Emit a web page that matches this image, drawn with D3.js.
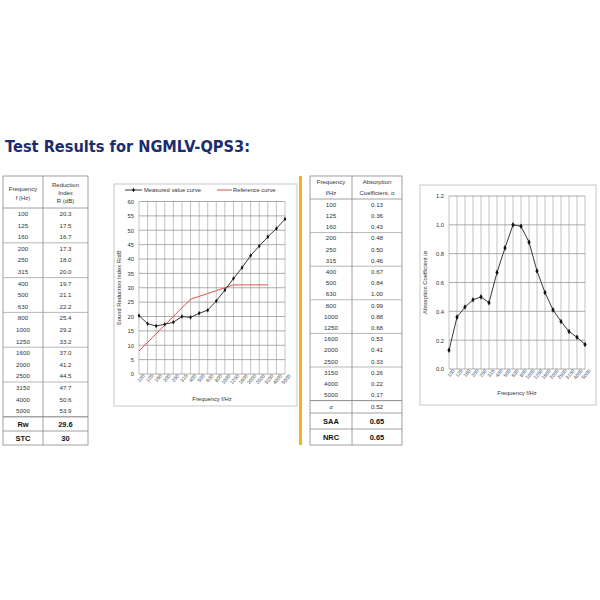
<!DOCTYPE html>
<html><head><meta charset="utf-8">
<script src="https://cdn.jsdelivr.net/npm/d3@7"></script>
<style>
body{margin:0;background:#fff;}
svg{display:block;font-family:"Liberation Sans",Arial,sans-serif;}
</style></head>
<body><svg id="c" width="600" height="600"></svg>
<script>
const titleText = "Test Results for NGMLV-QPS3:";
const freqs = [100,125,160,200,250,315,400,500,630,800,1000,1250,1600,2000,2500,3150,4000,5000];
const reductionIndex = [20.3,17.5,16.7,17.3,18.0,20.0,19.7,21.1,22.2,25.4,29.2,33.2,37.0,41.2,44.5,47.7,50.6,53.9];
const referenceCurve = [8,11,14,17,20,23,26,27,28,29,30,31,31,31,31,31];
const absorption = [0.13,0.36,0.43,0.48,0.50,0.46,0.67,0.84,1.00,0.99,0.88,0.68,0.53,0.41,0.33,0.26,0.22,0.17];
const soundSummary = [["Rw","29.6"],["STC","30"]];
const absorptionSummary = [["SAA","0.65"],["NRC","0.65"]];
const alphaRow = ["α","0.52"];
const yTicks1 = d3.range(0,61,5);
const yTicks2 = [0,0.2,0.4,0.6,0.8,1.0,1.2];

const svg = d3.select("#c");
const txtCol = "#333";

// Title
const t = svg.append("text").attr("x",5).attr("y",152)
  .attr("font-family","Verdana, 'DejaVu Sans', sans-serif").attr("font-weight","bold")
  .attr("font-size",16).attr("fill","#1c2c6c").text(titleText);
t.attr("textLength",245).attr("lengthAdjust","spacingAndGlyphs");

// Yellow separator
svg.append("rect").attr("x",299).attr("y",176).attr("width",3).attr("height",269).attr("fill","#f4b223");

// ---------- Left table ----------
function drawTable(cfg){
  const g = svg.append("g");
  const {x0,x1,xd,y0,y1,hb,rh,sumRows,headers} = cfg;
  const c1 = (x0+xd)/2, c2 = (xd+x1)/2;
  g.append("rect").attr("x",x0).attr("y",y0).attr("width",x1-x0).attr("height",y1-y0)
    .attr("fill","none").attr("stroke","#888").attr("stroke-width",0.8);
  g.append("line").attr("x1",xd).attr("x2",xd).attr("y1",y0).attr("y2",y1).attr("stroke","#888").attr("stroke-width",0.8);
  g.append("line").attr("x1",x0).attr("x2",x1).attr("y1",hb).attr("y2",hb).attr("stroke","#888").attr("stroke-width",0.8);
  headers.forEach(h=>{
    g.append("text").attr("x",h.col===0?c1:c2).attr("y",h.y).attr("text-anchor","middle")
      .attr("font-size",6).attr("fill",txtCol).text(h.t);
  });
  for(let k=3;k<=18;k+=3){
    const yy = hb + k*rh;
    g.append("line").attr("x1",x0).attr("x2",x1).attr("y1",yy).attr("y2",yy).attr("stroke","#999").attr("stroke-width",0.7);
  }
  freqs.forEach((f,i)=>{
    const yy = hb + (i+0.5)*rh + 2.2;
    g.append("text").attr("x",c1).attr("y",yy).attr("text-anchor","middle").attr("font-size",6.2).attr("fill",txtCol).text(f);
    g.append("text").attr("x",c2).attr("y",yy).attr("text-anchor","middle").attr("font-size",6.2).attr("fill",txtCol).text(cfg.vals[i]);
  });
  sumRows.forEach(r=>{
    g.append("line").attr("x1",x0).attr("x2",x1).attr("y1",r.top).attr("y2",r.top).attr("stroke","#888").attr("stroke-width",0.8);
    const yy = (r.top+r.bot)/2 + (r.bold?2.8:2.2);
    g.append("text").attr("x",c1).attr("y",yy).attr("text-anchor","middle").attr("font-size",r.bold?7.5:6.2)
      .attr("font-weight",r.bold?"bold":"normal").attr("fill",r.bold?"#111":txtCol).text(r.a);
    g.append("text").attr("x",c2).attr("y",yy).attr("text-anchor","middle").attr("font-size",r.bold?7.5:6.2)
      .attr("font-weight",r.bold?"bold":"normal").attr("fill",r.bold?"#111":txtCol).text(r.b);
  });
}

drawTable({x0:3,x1:88,xd:43,y0:176,y1:445,hb:208,rh:11.6,vals:reductionIndex.map(v=>v.toFixed(1)),
  headers:[{col:0,y:191,t:"Frequency"},{col:0,y:199.5,t:"f (Hz)"},
           {col:1,y:187,t:"Reduction"},{col:1,y:195,t:"Index"},{col:1,y:203,t:"R (dB)"}],
  sumRows:[{top:416.8,bot:431,a:soundSummary[0][0],b:soundSummary[0][1],bold:true},
           {top:431,bot:445,a:soundSummary[1][0],b:soundSummary[1][1],bold:true}]});

drawTable({x0:310,x1:402,xd:352,y0:176,y1:445,hb:199,rh:11.2,vals:absorption.map(v=>v.toFixed(2)),
  headers:[{col:0,y:184,t:"Frequency"},{col:0,y:195,t:"f/Hz"},
           {col:1,y:184,t:"Absorption"},{col:1,y:195,t:"Coefficient, α"}],
  sumRows:[{top:400.6,bot:413,a:alphaRow[0],b:alphaRow[1],bold:false},
           {top:413,bot:429,a:absorptionSummary[0][0],b:absorptionSummary[0][1],bold:true},
           {top:429,bot:445,a:absorptionSummary[1][0],b:absorptionSummary[1][1],bold:true}]});

// ---------- Chart helper ----------
function drawChart(cfg){
  const g = svg.append("g");
  g.append("rect").attr("x",cfg.box[0]).attr("y",cfg.box[1]).attr("width",cfg.box[2]-cfg.box[0]).attr("height",cfg.box[3]-cfg.box[1])
    .attr("fill","#fff").attr("stroke","#c8c8c8").attr("stroke-width",1);
  const x = d3.scalePoint().domain(freqs).range(cfg.xr).padding(0);
  const y = d3.scaleLinear().domain(cfg.yd).range(cfg.yr);
  // vertical grid
  g.append("g").selectAll("line").data(freqs).join("line")
    .attr("x1",d=>x(d)).attr("x2",d=>x(d)).attr("y1",cfg.yr[0]).attr("y2",cfg.yr[1])
    .attr("stroke","#9a9a9a").attr("stroke-width",0.6);
  // horizontal grid
  g.append("g").selectAll("line").data(cfg.yTicks).join("line")
    .attr("x1",cfg.xr[0]).attr("x2",cfg.xr[1]).attr("y1",d=>y(d)).attr("y2",d=>y(d))
    .attr("stroke","#8a8a8a").attr("stroke-width",0.7);
  // axes
  const ya = g.append("g").attr("transform",`translate(${cfg.xr[0]},0)`)
    .call(d3.axisLeft(y).tickValues(cfg.yTicks).tickSize(0).tickPadding(5).tickFormat(cfg.yfmt));
  ya.select(".domain").remove();
  ya.selectAll("text").attr("font-size",5.8).attr("fill","#333").attr("font-family","'Liberation Sans',Arial,sans-serif");
  const xa = g.append("g").attr("transform",`translate(0,${cfg.yr[0]})`)
    .call(d3.axisBottom(x).tickSize(0).tickPadding(3));
  xa.select(".domain").remove();
  xa.selectAll("text").attr("font-size",5).attr("fill","#444").attr("font-family","'Liberation Sans',Arial,sans-serif")
    .attr("text-anchor","end").attr("dy","0.5em").attr("dx","0.4em").attr("transform","rotate(-50)");
  // axis titles
  g.append("text").attr("x",(cfg.xr[0]+cfg.xr[1])/2).attr("y",cfg.xTitleY).attr("text-anchor","middle")
    .attr("font-size",5.8).attr("fill","#333").text("Frequency f/Hz");
  g.append("text").attr("transform",`translate(${cfg.yTitleX},${(cfg.yr[0]+cfg.yr[1])/2}) rotate(-90)`)
    .attr("text-anchor","middle").attr("font-size",5.8).attr("fill","#333").text(cfg.yTitle);
  return {g,x,y};
}

// Chart 1
const c1 = drawChart({box:[114,184,297,406],xr:[139,285],yr:[374,201.5],yd:[0,60],yTicks:yTicks1,
  yfmt:d3.format("d"),xTitleY:401,yTitleX:121,yTitle:"Sound Reduction Index R/dB"});
c1.g.append("path").datum(referenceCurve)
  .attr("d",d3.line().x((d,i)=>c1.x(freqs[i])).y(d=>c1.y(d)))
  .attr("fill","none").attr("stroke","#d9534a").attr("stroke-width",1);
c1.g.append("path").datum(reductionIndex)
  .attr("d",d3.line().x((d,i)=>c1.x(freqs[i])).y(d=>c1.y(d)))
  .attr("fill","none").attr("stroke","#222").attr("stroke-width",0.9);
c1.g.append("g").selectAll("path").data(reductionIndex).join("path")
  .attr("d",d3.symbol(d3.symbolDiamond,6))
  .attr("transform",(d,i)=>`translate(${c1.x(freqs[i])},${c1.y(d)})`).attr("fill","#111");
// legend
const lg = c1.g.append("g");
lg.append("line").attr("x1",125).attr("x2",142).attr("y1",190).attr("y2",190).attr("stroke","#222").attr("stroke-width",0.9);
lg.append("path").attr("d",d3.symbol(d3.symbolDiamond,6)).attr("transform","translate(133.5,190)").attr("fill","#111");
lg.append("text").attr("x",144).attr("y",192).attr("font-size",5.8).attr("fill","#333").text("Measured value curve");
lg.append("line").attr("x1",217).attr("x2",232).attr("y1",190).attr("y2",190).attr("stroke","#d9534a").attr("stroke-width",1);
lg.append("text").attr("x",233).attr("y",192).attr("font-size",5.8).attr("fill","#333").text("Reference curve");

// Chart 2
const c2 = drawChart({box:[420,185,596,405],xr:[449,585],yr:[369,196],yd:[0,1.2],yTicks:yTicks2,
  yfmt:d3.format(".1f"),xTitleY:395,yTitleX:427,yTitle:"Absorption Coefficient /α"});
c2.g.append("path").datum(absorption)
  .attr("d",d3.line().x((d,i)=>c2.x(freqs[i])).y(d=>c2.y(d)))
  .attr("fill","none").attr("stroke","#222").attr("stroke-width",0.9);
c2.g.append("g").selectAll("path").data(absorption).join("path")
  .attr("d",d3.symbol(d3.symbolDiamond,9))
  .attr("transform",(d,i)=>`translate(${c2.x(freqs[i])},${c2.y(d)})`).attr("fill","#111");
</script></body></html>
